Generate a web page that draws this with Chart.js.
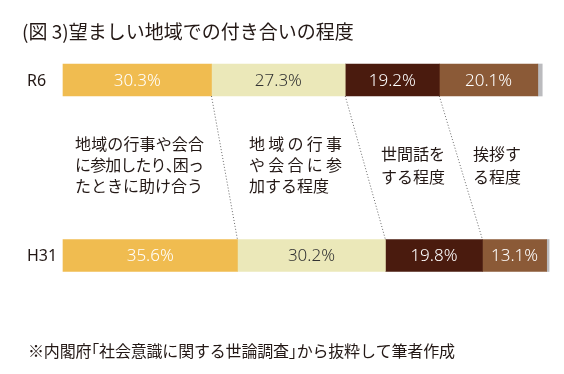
<!DOCTYPE html>
<html><head><meta charset="utf-8">
<script src="https://cdn.jsdelivr.net/npm/chart.js@4"></script>
<style>html,body{margin:0;padding:0;background:#fff;}canvas{display:block}</style>
</head><body>
<canvas id="c" width="564" height="374"></canvas>
<script>
// ---- data ----
const categories = ['R6', 'H31'];
const seriesNames = ['地域の行事や会合に参加したり、困ったときに助け合う', '地域の行事や会合に参加する程度', '世間話をする程度', '挨拶する程度', 'その他'];
const helpEachOther = [30.3, 35.6];
const joinEvents = [27.3, 30.2];
const smallTalk = [19.2, 19.8];
const greeting = [20.1, 13.1];
const otherShare = [0.9, 0.5];
const titleText = '(図 3)望ましい地域での付き合いの程度';
const noteText = '※内閣府「社会意識に関する世論調査」から抜粋して筆者作成';
const annotationLines = [
  ['地域の行事や会合', 'に参加したり、困っ', 'たときに助け合う'],
  ['地域の行事', 'や会合に参', '加する程度'],
  ['世間話を', 'する程度'],
  ['挨拶す', 'る程度']
];

// ---- styles ----
const colors = ['#F0BC50', '#EBE8B9', '#4A1B0E', '#8B5A37', '#BBBBBE'];
const labelColors = ['#ffffff', '#333333', '#ffffff', '#ffffff', null];
const series = [helpEachOther, joinEvents, smallTalk, greeting, otherShare];
const JP = '"Noto Sans CJK JP", "Noto Sans", sans-serif';

const blocks = [
  {x: 75, y: 144, lh: 21, fit: [129, 129, null]},
  {x: 249, y: 144, lh: 21, fit: [93, 93, null]},
  {x: 381, y: 154, lh: 23, fit: [null, null]},
  {x: 473, y: 154, lh: 23, fit: [null, null]}
];

const HALF = {'、': 0, '」': 0, '「': 1};
function drawFitted(ctx, text, x, y, target) {
  const chars = [...text];
  const ws = chars.map(c => (c in HALF) ? ctx.measureText(c).width * 0.5 : ctx.measureText(c).width);
  const natural = ws.reduce((a, b) => a + b, 0);
  const gap = (target && chars.length > 1) ? (target - natural) / (chars.length - 1) : 0;
  let cx = x;
  chars.forEach((c, i) => {
    const shift = HALF[c] === 1 ? -ws[i] : 0;
    ctx.fillText(c, cx + shift, y);
    cx += ws[i] + gap;
  });
}

const decor = {
  id: 'decor',
  afterDatasetsDraw(chart) {
    const ctx = chart.ctx;
    ctx.save();
    // dotted connector lines between category bars
    ctx.strokeStyle = '#444';
    ctx.lineWidth = 0.8;
    ctx.setLineDash([1, 2]);
    for (let i = 0; i < 3; i++) {
      const meta = chart.getDatasetMeta(i);
      const a = meta.data[0].getProps(['x', 'y', 'height'], true);
      const b = meta.data[1].getProps(['x', 'y', 'height'], true);
      ctx.beginPath();
      ctx.moveTo(a.x, a.y + a.height / 2);
      ctx.lineTo(b.x, b.y - b.height / 2);
      ctx.stroke();
    }
    ctx.setLineDash([]);
    // value labels
    ctx.font = '300 17px "Noto Sans", sans-serif';
    ctx.textAlign = 'center';
    ctx.textBaseline = 'middle';
    chart.data.datasets.forEach((ds, i) => {
      if (!labelColors[i]) return;
      const meta = chart.getDatasetMeta(i);
      meta.data.forEach((el, j) => {
        const p = el.getProps(['x', 'y', 'base'], true);
        ctx.fillStyle = labelColors[i];
        ctx.fillText(ds.data[j].toFixed(1) + '%', (p.x + p.base) / 2, p.y + 1);
      });
    });
    // category labels
    ctx.textAlign = 'left';
    ctx.fillStyle = '#231815';
    ctx.font = '16px "Noto Sans", sans-serif';
    const ys = chart.scales.y;
    chart.data.labels.forEach((l, j) => ctx.fillText(l, 27, ys.getPixelForValue(j) + 1));
    // title
    ctx.font = '19px ' + JP;
    ctx.fillText(titleText, 22, 32);
    // annotations
    ctx.font = '16px ' + JP;
    annotationLines.forEach((lines, bi) => {
      const b = blocks[bi];
      lines.forEach((t, li) => drawFitted(ctx, t, b.x, b.y + li * b.lh, b.fit[li]));
    });
    // note
    ctx.font = '16px ' + JP;
    drawFitted(ctx, noteText, 28, 351, 427);
    ctx.restore();
  }
};

new Chart(document.getElementById('c'), {
  type: 'bar',
  data: {
    labels: categories,
    datasets: series.map((d, i) => ({
      label: seriesNames[i],
      data: d,
      backgroundColor: colors[i],
      borderWidth: 0,
      barThickness: 32,
      clip: false
    }))
  },
  options: {
    indexAxis: 'y',
    responsive: false,
    animation: false,
    layout: {padding: {left: 27, right: 11, top: 80, bottom: 118.5}},
    plugins: {legend: {display: false}, title: {display: false}, tooltip: {enabled: false}},
    scales: {
      x: {stacked: true, min: 0, max: 100, display: false},
      y: {
        stacked: true,
        offset: false,
        grid: {display: false},
        border: {display: false},
        ticks: {display: false},
        afterFit(scale) { scale.width = 36; }
      }
    }
  },
  plugins: [decor]
});
</script>
</body></html>
